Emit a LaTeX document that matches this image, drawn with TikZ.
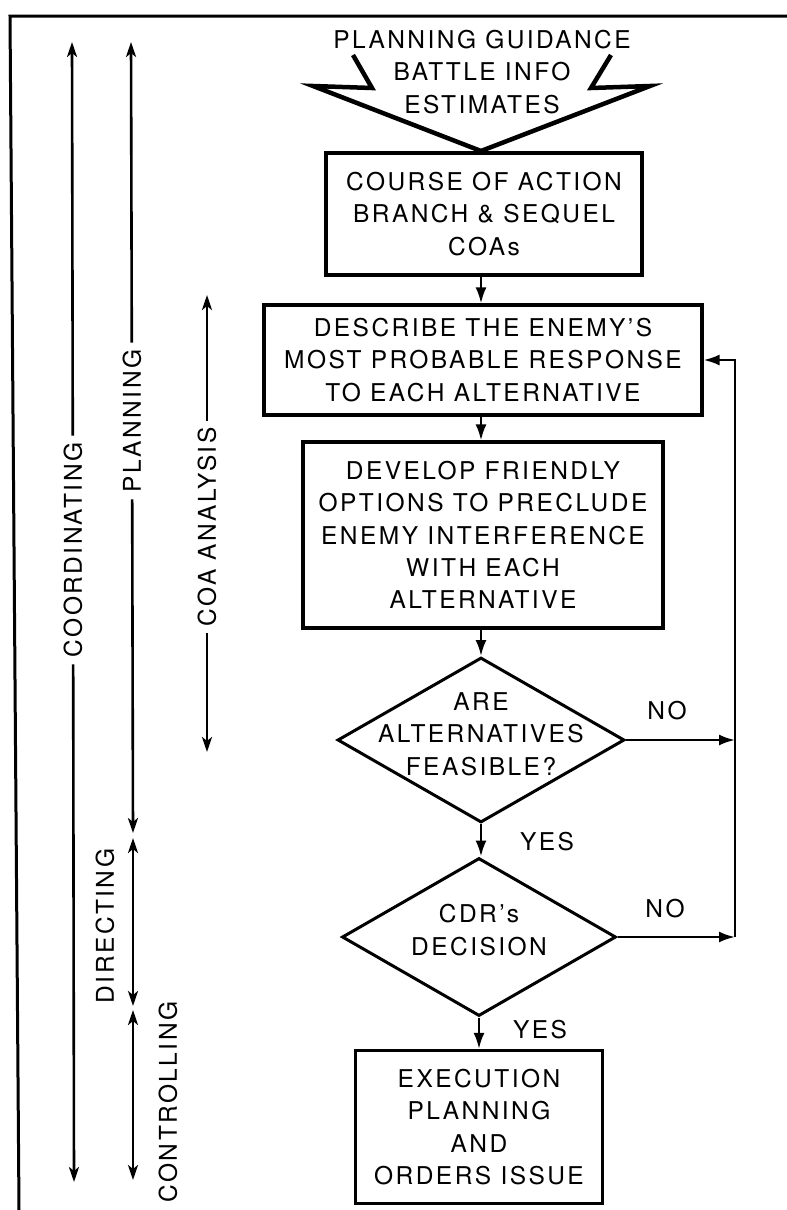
\documentclass[tikz,border=0pt]{standalone}
\usepackage{fontspec}
\setmainfont{TeX Gyre Heros}[LetterSpace=10]
\usetikzlibrary{arrows.meta,shapes.geometric,calc}
\begin{document}
\begin{tikzpicture}[x=1pt,y=-1pt,
  txt/.style={font=\fontsize{24.5}{32.3}\selectfont, align=center, inner sep=0pt},
  box/.style={txt, draw, line width=3.2pt, rectangle},
  dia/.style={draw, line width=3pt, diamond, line join=miter, inner sep=0pt},
  lbl/.style={txt, rotate=90, outer sep=7pt},
  flow/.style={line width=2.4pt, -{Latex[length=16pt,width=11pt]}},
  larr/.style={line width=2.6pt, -{Stealth[length=15pt,width=10pt,inset=4pt]}},
  larrb/.style={line width=2.6pt, {Stealth[length=15pt,width=10pt,inset=4pt]}-{Stealth[length=15pt,width=10pt,inset=4pt]}},
  bolt/.style={line width=4.5pt, line join=miter, miter limit=20}
]
\useasboundingbox (0,0) rectangle (787,1210);

% frame
\draw[line width=3pt] (787,16) -- (10,16) -- (19,1210);

% input
\node[txt] (inp) at (482,72) {PLANNING GUIDANCE\\BATTLE INFO\\ESTIMATES};
\draw[bolt] (353,55) -- (372,88) -- (313,86) -- (481,151) -- (650,86) -- (591,88) -- (611,55);

% boxes
\node[box, minimum width=316pt, minimum height=122pt] (b1) at (484,214)
  {COURSE OF ACTION\\BRANCH \& SEQUEL\\COAs};
\node[box, minimum width=438pt, minimum height=110pt] (b2) at (483,360)
  {DESCRIBE THE ENEMY’S\\MOST PROBABLE RESPONSE\\TO EACH ALTERNATIVE};
\node[box, minimum width=360pt, minimum height=186pt] (b3) at (483,535)
  {DEVELOP FRIENDLY\\OPTIONS TO PRECLUDE\\ENEMY INTERFERENCE\\WITH EACH\\ALTERNATIVE};
\node[dia, minimum width=287pt, minimum height=165pt] (d1) at (481,740) {};
\node[txt] (t1) at (481,734) {ARE\\ALTERNATIVES\\FEASIBLE?};
\node[dia, minimum width=274pt, minimum height=158pt] (d2) at (479,937) {};
\node[txt] (t2) at (479,930) {CDR’s\\DECISION};
\node[box, minimum width=247pt, minimum height=153pt] (b4) at (479,1127)
  {EXECUTION\\PLANNING\\AND\\ORDERS ISSUE};

% flow connectors
\draw[flow] (b1.south -| 481,0) -- (b2.north -| 481,0);
\draw[flow] (b2.south -| d1.north) -- (b3.north -| d1.north);
\draw[flow] (b3.south -| d1.north) -- (d1.north);
\draw[flow] (d1.south) -- (d2.north -| d1.south);
\draw[flow] (d2.south) -- (b4.north);

\coordinate (r1) at (735,740);
\coordinate (r2) at (735,937);
\draw[flow] (d1.east) -- (r1);
\draw[flow] (d2.east) -- (r2);
\draw[flow] (r2) |- (b2.east);

\node[txt] (no1) at (667,711) {NO};
\node[txt] (no2) at (665,909) {NO};
\node[txt] (yes1) at (547,842) {YES};
\node[txt] (yes2) at (540,1030) {YES};

% left phase arrows
\node[lbl] (lco) at (73,550) {COORDINATING};
\coordinate (coT) at (72,42);
\coordinate (coB) at (74,1182);
\draw[larr] (lco) -- (coT);
\draw[larr] (lco) -- (coB);

\node[lbl] (lpl) at (132,421) {PLANNING};
\coordinate (plT) at (131,42);
\coordinate (plB) at (133,833);
\draw[larr] (lpl) -- (plT);
\draw[larr] (lpl) -- (plB);

\node[lbl] (lcoa) at (207,527) {COA ANALYSIS};
\coordinate (caT) at (207,295);
\coordinate (caB) at (207,752);
\draw[larr] (lcoa) -- (caT);
\draw[larr] (lcoa) -- (caB);

\node[lbl] (ldir) at (105,926) {DIRECTING};
\coordinate (diT) at (133,838);
\coordinate (diB) at (133,1006);
\draw[larrb] (diT) -- (diB);

\node[lbl] (lctl) at (168,1102) {CONTROLLING};
\coordinate (ctT) at (133,1010);
\coordinate (ctB) at (133,1180);
\draw[larrb] (ctT) -- (ctB);
\end{tikzpicture}
\end{document}
